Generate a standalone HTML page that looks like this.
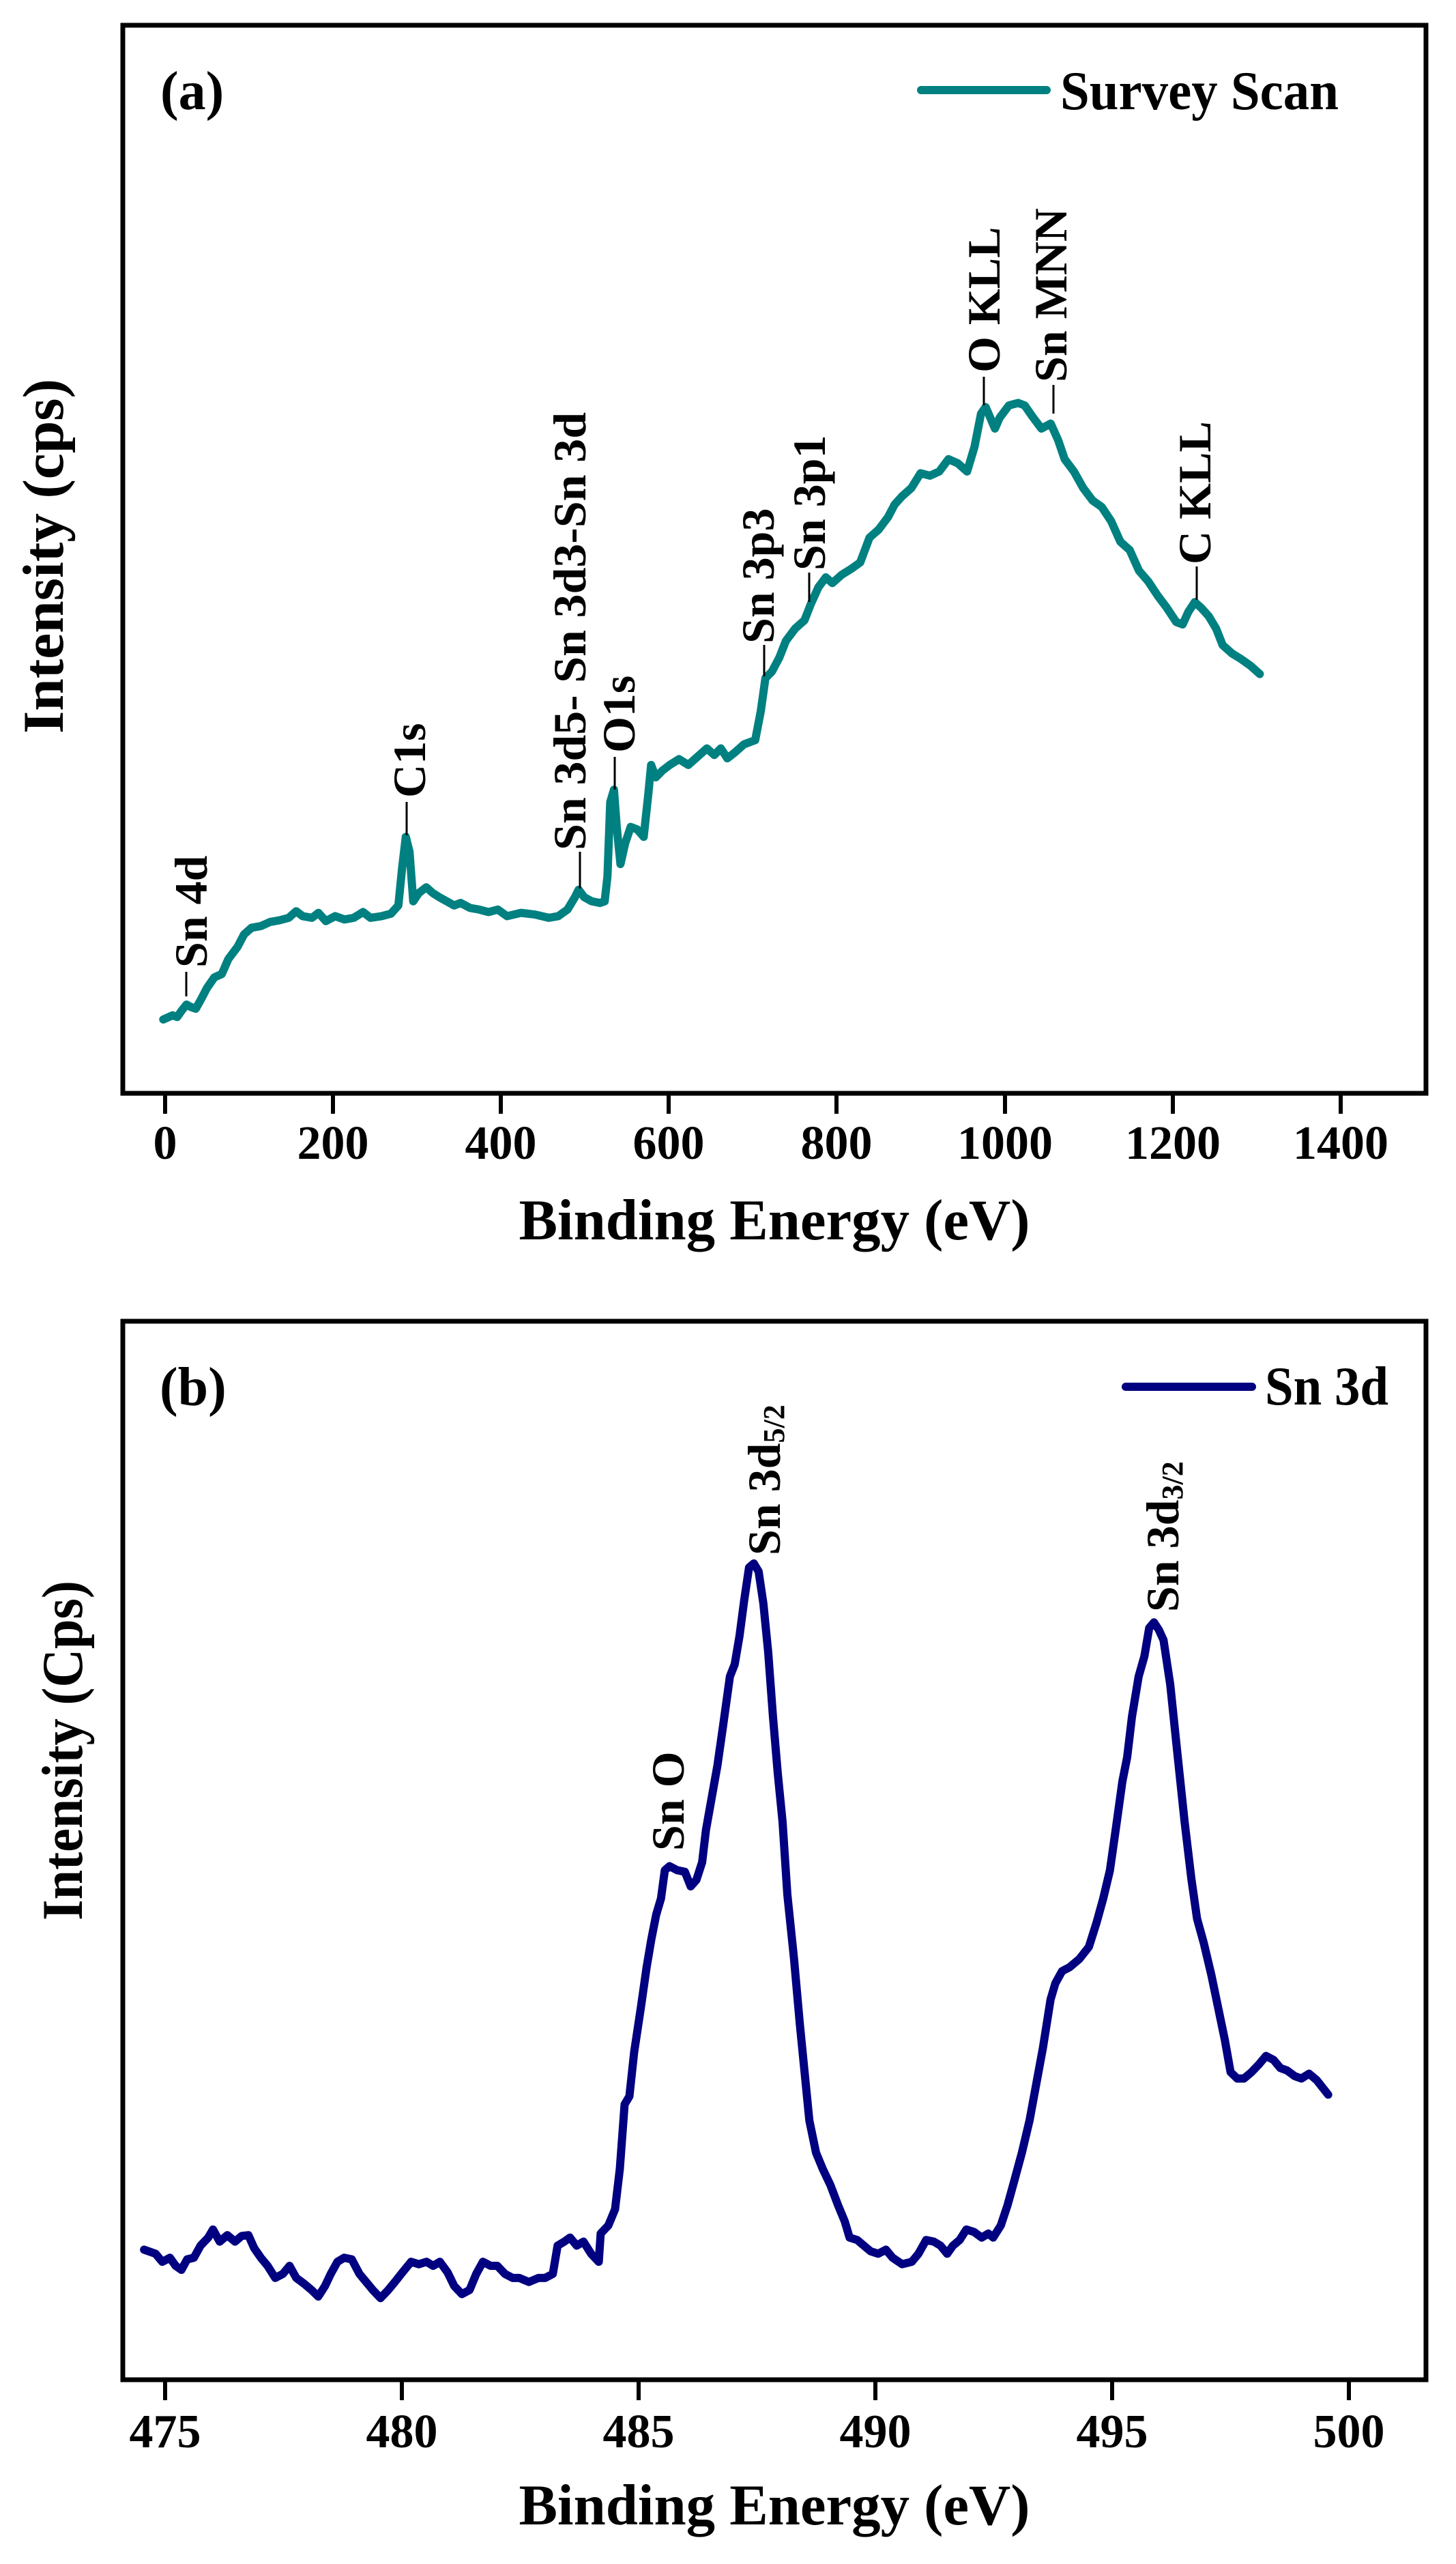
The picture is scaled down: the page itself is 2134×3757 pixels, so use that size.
<!DOCTYPE html>
<html><head><meta charset="utf-8"><style>html,body{margin:0;padding:0;background:#fff}svg{display:block}</style></head>
<body>
<svg xmlns="http://www.w3.org/2000/svg" width="2134" height="3757" viewBox="0 0 2134 3757" font-family="Liberation Serif, serif" font-weight="bold">
<rect width="2134" height="3757" fill="#fff"/>
<!-- Panel A -->
<rect x="180" y="37" width="1910" height="1565" fill="none" stroke="#000" stroke-width="7"/>
<g stroke="#000" stroke-width="6">
<line x1="242" y1="1602" x2="242" y2="1632"/><line x1="488" y1="1602" x2="488" y2="1632"/><line x1="734" y1="1602" x2="734" y2="1632"/><line x1="980" y1="1602" x2="980" y2="1632"/><line x1="1226" y1="1602" x2="1226" y2="1632"/><line x1="1473" y1="1602" x2="1473" y2="1632"/><line x1="1719" y1="1602" x2="1719" y2="1632"/><line x1="1965" y1="1602" x2="1965" y2="1632"/>
</g>
<g font-size="70" text-anchor="middle">
<text x="242" y="1698">0</text><text x="488" y="1698">200</text><text x="734" y="1698">400</text><text x="980" y="1698">600</text><text x="1226" y="1698">800</text><text x="1473" y="1698">1000</text><text x="1719" y="1698">1200</text><text x="1965" y="1698">1400</text>
</g>
<text x="1135" y="1816" font-size="85" text-anchor="middle" textLength="749" lengthAdjust="spacingAndGlyphs">Binding Energy (eV)</text>
<text transform="translate(92,815) rotate(-90)" font-size="85" text-anchor="middle" textLength="520" lengthAdjust="spacingAndGlyphs">Intensity (cps)</text>
<text x="235" y="160" font-size="80">(a)</text>
<line x1="1350" y1="132" x2="1534" y2="132" stroke="#008080" stroke-width="12" stroke-linecap="round"/>
<text x="1554" y="160" font-size="80" textLength="408" lengthAdjust="spacingAndGlyphs">Survey Scan</text>
<g transform="matrix(1.362 0 0 1.211 0.93 0.67)">
<polyline fill="none" stroke="#008080" stroke-width="12" stroke-linejoin="round" stroke-linecap="round" vector-effect="non-scaling-stroke" points="175,1233 185,1228 190,1230 195,1222 200,1215 205,1218 210,1220 215,1210 222,1195 230,1182 238,1178 245,1160 255,1145 262,1130 270,1122 280,1120 290,1115 300,1113 310,1110 318,1102 325,1108 335,1110 342,1104 350,1114 360,1108 370,1112 380,1110 390,1103 398,1110 410,1108 420,1105 428,1095 432,1050 436,1012 440,1030 444,1090 450,1080 458,1073 465,1080 472,1085 480,1090 488,1095 495,1092 505,1098 515,1100 525,1103 535,1100 545,1108 560,1104 575,1106 590,1110 600,1108 610,1100 618,1085 622,1076 628,1085 636,1090 645,1092 650,1090 653,1060 656,970 660,955 663,1000 667,1045 672,1020 678,1000 685,1003 692,1012 697,960 700,925 705,940 712,932 720,925 730,918 740,925 750,915 760,905 768,913 775,905 782,917 790,910 800,900 812,895 818,860 823,820 830,812 838,795 845,775 855,760 865,750 872,730 880,710 888,698 895,705 905,695 915,688 925,680 935,650 945,640 955,625 962,610 970,600 980,590 990,572 1000,575 1010,570 1020,555 1030,560 1040,570 1048,540 1055,500 1060,492 1065,505 1070,518 1075,505 1085,490 1095,487 1102,490 1110,503 1120,518 1130,512 1138,532 1145,555 1155,570 1165,590 1175,605 1185,613 1195,630 1205,655 1215,665 1225,690 1235,703 1245,720 1255,735 1265,752 1272,755 1278,740 1285,728 1292,735 1300,745 1308,760 1315,780 1325,790 1335,797 1345,805 1355,815"/>
</g>
<g stroke="#000" stroke-width="3">
<line x1="273" y1="1460" x2="273" y2="1424"/><line x1="596" y1="1224" x2="596" y2="1175"/><line x1="850" y1="1302" x2="850" y2="1248"/><line x1="901" y1="1157" x2="901" y2="1109"/><line x1="1120" y1="991" x2="1120" y2="945"/><line x1="1186" y1="882" x2="1186" y2="839"/><line x1="1442" y1="594" x2="1442" y2="552"/><line x1="1544" y1="606" x2="1544" y2="564"/><line x1="1754" y1="879" x2="1754" y2="830"/>
</g>
<g font-size="68" dominant-baseline="central">
<text transform="translate(280,1418) rotate(-90)">Sn 4d</text>
<text transform="translate(600,1169) rotate(-90)">C1s</text>
<text transform="translate(835,1246) rotate(-90)" textLength="642" lengthAdjust="spacingAndGlyphs">Sn 3d5- Sn 3d3-Sn 3d</text>
<text transform="translate(907,1103) rotate(-90)">O1s</text>
<text transform="translate(1111,943) rotate(-90)">Sn 3p3</text>
<text transform="translate(1186,836) rotate(-90)">Sn 3p1</text>
<text transform="translate(1442,546) rotate(-90)">O KLL</text>
<text transform="translate(1540,560) rotate(-90)">Sn MNN</text>
<text transform="translate(1751,827) rotate(-90)">C KLL</text>
</g>
<!-- Panel B -->
<rect x="180" y="1936" width="1910" height="1551" fill="none" stroke="#000" stroke-width="7"/>
<g stroke="#000" stroke-width="6">
<line x1="242" y1="3487" x2="242" y2="3517"/><line x1="589" y1="3487" x2="589" y2="3517"/><line x1="936" y1="3487" x2="936" y2="3517"/><line x1="1283" y1="3487" x2="1283" y2="3517"/><line x1="1630" y1="3487" x2="1630" y2="3517"/><line x1="1977" y1="3487" x2="1977" y2="3517"/>
</g>
<g font-size="70" text-anchor="middle">
<text x="242" y="3586">475</text><text x="589" y="3586">480</text><text x="936" y="3586">485</text><text x="1283" y="3586">490</text><text x="1630" y="3586">495</text><text x="1977" y="3586">500</text>
</g>
<text x="1135" y="3699" font-size="85" text-anchor="middle" textLength="749" lengthAdjust="spacingAndGlyphs">Binding Energy (eV)</text>
<text transform="translate(120,2565) rotate(-90)" font-size="85" text-anchor="middle" textLength="498" lengthAdjust="spacingAndGlyphs">Intensity (Cps)</text>
<text x="234" y="2059" font-size="80">(b)</text>
<line x1="1650" y1="2032" x2="1835" y2="2032" stroke="#000080" stroke-width="12" stroke-linecap="round"/>
<text x="1854" y="2058" font-size="80" textLength="181" lengthAdjust="spacingAndGlyphs">Sn 3d</text>
<g transform="matrix(1.403 0 0 1.183 -3.5 1900.5)">
<polyline fill="none" stroke="#000080" stroke-width="12" stroke-linejoin="round" stroke-linecap="round" vector-effect="non-scaling-stroke" points="153,1180 165,1185 172,1195 180,1190 186,1200 192,1205 198,1192 205,1190 212,1175 220,1165 225,1155 232,1170 240,1162 248,1170 255,1163 262,1162 268,1178 275,1190 282,1200 290,1215 298,1210 305,1200 312,1215 320,1222 328,1230 335,1238 342,1225 348,1210 355,1195 362,1190 370,1192 378,1210 385,1220 392,1230 400,1240 408,1230 415,1220 423,1208 432,1195 440,1198 448,1195 455,1200 462,1195 470,1208 477,1225 485,1235 493,1230 500,1210 507,1195 515,1200 522,1200 530,1210 538,1215 545,1215 555,1220 565,1215 572,1215 580,1210 585,1175 592,1170 598,1165 605,1175 612,1170 620,1185 628,1195 630,1160 638,1150 645,1130 650,1080 655,1000 660,990 665,935 672,880 678,830 683,795 688,765 693,745 697,710 702,705 710,710 718,712 724,730 730,722 736,700 740,660 746,620 752,580 758,530 765,470 770,455 775,420 780,375 785,335 790,330 795,340 800,380 805,440 810,520 815,590 820,650 825,740 832,820 838,900 843,960 848,1020 855,1060 862,1080 870,1100 878,1125 885,1145 890,1165 898,1168 905,1175 912,1182 920,1185 928,1180 935,1190 945,1198 955,1195 962,1185 970,1168 978,1170 985,1175 992,1185 998,1175 1005,1168 1012,1155 1020,1158 1028,1165 1035,1160 1040,1165 1048,1150 1055,1125 1062,1095 1070,1060 1078,1020 1085,975 1092,930 1100,870 1105,850 1112,835 1120,830 1130,820 1140,805 1148,775 1155,745 1162,710 1168,660 1175,600 1180,570 1185,520 1192,470 1198,445 1203,410 1208,403 1213,412 1218,425 1225,480 1232,560 1240,650 1247,720 1253,770 1260,800 1268,840 1275,880 1282,920 1288,960 1295,968 1302,968 1310,960 1318,950 1325,940 1333,945 1340,955 1347,958 1355,965 1362,968 1370,962 1378,970 1390,988"/>
</g>
<g font-size="68" dominant-baseline="central">
<text transform="translate(979,2712) rotate(-90)">Sn O</text>
<text transform="translate(1120,2279) rotate(-90)">Sn 3d<tspan font-size="44" dy="14">5/2</tspan></text>
<text transform="translate(1704,2362) rotate(-90)">Sn 3d<tspan font-size="44" dy="14">3/2</tspan></text>
</g>
</svg>
</body></html>
